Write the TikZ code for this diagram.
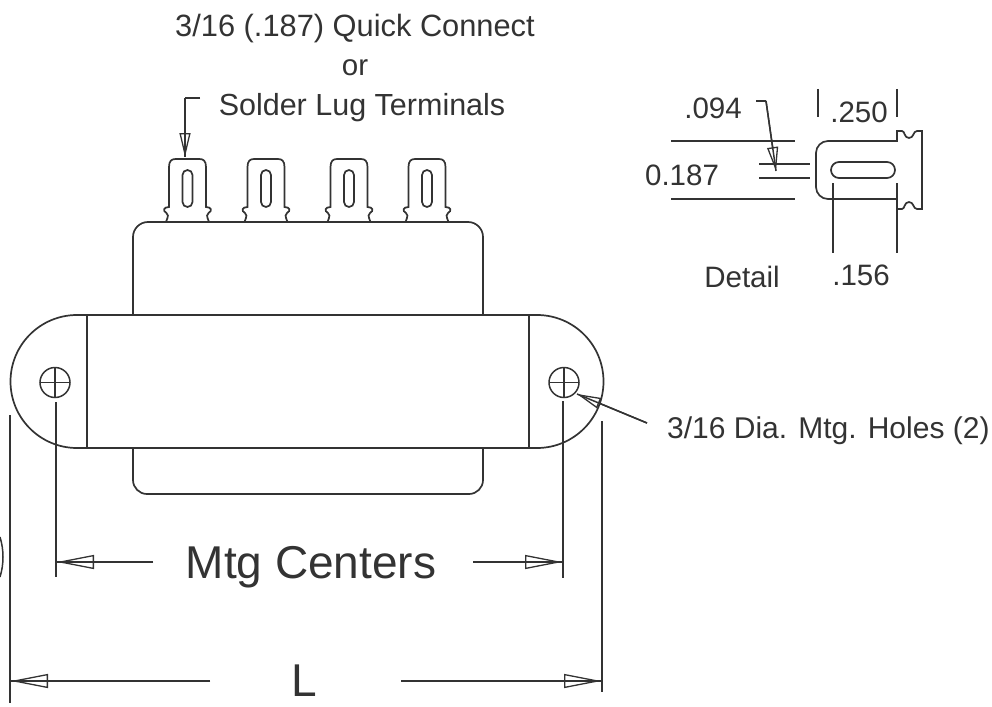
\documentclass[tikz,border=0pt]{standalone}
\usepackage{fontspec}
\setmainfont{Liberation Sans}
\usetikzlibrary{arrows.meta}
\definecolor{ink}{gray}{0.2}
\tikzset{
  x=1pt,y=-1pt,
  outline/.style={draw=ink,line width=1.7pt},
  thin line/.style={draw=ink,line width=1.5pt},
  label text/.style={inner sep=0pt,text=ink,font=\fontsize{29.5}{29.5}\selectfont},
  big text/.style={inner sep=0pt,text=ink,font=\fontsize{46}{46}\selectfont},
  dimline/.style={thin line,postaction={draw,-{Triangle[open,length=37pt,width=14pt,line width=1.3pt]}}},
  smallhead/.style={thin line,postaction={draw,-{Triangle[open,length=24pt,width=11pt,line width=1.3pt]}}},
  pics/lug/.style={code={
    \draw[outline] (-24,222) -- (-21.5,222) .. controls (-19,216) and (-19,214) .. (-21,213)
      .. controls (-25,211) and (-24,207) .. (-18.5,207) -- (-18.5,167)
      .. controls (-18.5,161) and (-16,159) .. (-12,159) -- (12,159)
      .. controls (16,159) and (18.5,161) .. (18.5,167) -- (18.5,207)
      .. controls (24,207) and (25,211) .. (21,213)
      .. controls (19,214) and (19,216) .. (21.5,222) -- (24,222);
    \draw[outline] (-5,175) arc[start angle=-180,end angle=0,radius=5] -- (5,202)
      arc[start angle=0,end angle=180,radius=5] -- cycle;
  }}
}
\begin{document}
\begin{tikzpicture}
\useasboundingbox (0,0) rectangle (992,706);
% body
\draw[outline] (133,315) -- (133,237) arc[start angle=-180,end angle=-90,radius=15] -- (468,222)
  arc[start angle=-90,end angle=0,radius=15] -- (483,315);
\draw[outline] (133,448) -- (133,480) arc[start angle=180,end angle=90,radius=14] -- (469,494)
  arc[start angle=90,end angle=0,radius=14] -- (483,448);
\draw[outline] (87,315) rectangle (529,448);
\draw[outline] (87,315) -- (77,315) arc[start angle=-90,end angle=-270,radius=66.5] -- (87,448);
\draw[outline] (529,315) -- (537,315) arc[start angle=-90,end angle=90,radius=66.5] -- (529,448);
% terminals
\foreach \cx in {187.5,266,349,427} \pic at (\cx,0) {lug};
% holes
\foreach \hx/\hn in {55/holeL,564/holeR}{
  \node[circle,draw=ink,line width=1.5pt,minimum size=30pt,inner sep=0pt] (\hn) at (\hx,382.5) {};
  \draw[thin line] (\hx-15,382.5) -- (\hx+15,382.5) (\hx,367.5) -- (\hx,397.5);
}
% extension lines
\coordinate (mL1) at (56,402); \coordinate (mL2) at (56,577);
\coordinate (mR1) at (563,401); \coordinate (mR2) at (563,578);
\coordinate (lL1) at (10,415); \coordinate (lL2) at (10,703);
\coordinate (lR1) at (602,421); \coordinate (lR2) at (602,692);
\draw[thin line] (mL1)--(mL2) (mR1)--(mR2) (lL1)--(lL2) (lR1)--(lR2);
% dimension texts
\node[big text] (mtg) at (311,567) {Mtg Centers};
\node[big text] (ell) at (304,681) {L};
\coordinate (a1) at (153,562); \coordinate (a2) at (57,562);
\coordinate (a3) at (473,562); \coordinate (a4) at (562,562);
\coordinate (a5) at (210,681); \coordinate (a6) at (11,681);
\coordinate (a7) at (401,681); \coordinate (a8) at (601,681);
\draw[dimline] (a1)--(a2);
\draw[dimline] (a3)--(a4);
\draw[dimline] (a5)--(a6);
\draw[dimline] (a7)--(a8);
% top labels
\node[label text,font=\fontsize{30.8}{30.8}\selectfont] (t1) at (355,29) {3/16 (.187) Quick Connect};
\node[label text] (t2) at (355,68) {or};
\node[label text,font=\fontsize{30.5}{30.5}\selectfont] (t3) at (362,108) {Solder Lug Terminals};
\coordinate (q1) at (200,98); \coordinate (q2) at (185,98); \coordinate (q3) at (185,157);
\draw[thin line] (q1)--(q2);
\draw[smallhead] (q2)--(q3);
% holes leader
\node[label text,anchor=west,font=\fontsize{30}{30}\selectfont] (holes) at (667,431) {3/16 Dia. Mtg. Holes (2)};
\coordinate (h1) at (647,423); \coordinate (h2) at (577,394);
\draw[smallhead] (h1)--(h2);
% detail
\node[label text] (d1) at (713,108) {.094};
\node[label text] (d2) at (859,112) {.250};
\node[label text] (d3) at (682,175) {0.187};
\node[label text] (d4) at (742,277) {Detail};
\node[label text] (d5) at (861,275) {.156};
\coordinate (e1) at (756,101); \coordinate (e2) at (766,101); \coordinate (e3) at (776,171);
\draw[thin line] (e1)--(e2);
\draw[smallhead] (e2)--(e3);
\draw[thin line] (671,141)--(795,141) (671,199)--(795,199)
  (759,164)--(810,164) (759,178)--(810,178)
  (818,89)--(818,117) (897,89)--(897,117)
  (833,183)--(833,253) (897,183)--(897,253);
% detail lug
\draw[outline] (897,141) -- (828,141) arc[start angle=-90,end angle=-180,radius=12] -- (816,187)
  arc[start angle=180,end angle=90,radius=12] -- (897,199)
  -- (897,209) -- (902,209) .. controls (905,209) and (904,202) .. (909,202)
  .. controls (914,202) and (913,209) .. (917,209) -- (922,209) -- (922,131)
  -- (917,131) .. controls (913,131) and (914,138) .. (909,138)
  .. controls (904,138) and (905,131) .. (902,131) -- (897,131) -- cycle;
\draw[outline] (839,162) -- (887,162) arc[start angle=-90,end angle=90,radius=8] -- (839,178)
  arc[start angle=90,end angle=270,radius=8] -- cycle;
% stray arc at the left edge
\draw[thin line] (0,537) .. controls (4,550) and (4,564) .. (0,577);
\end{tikzpicture}
\end{document}
